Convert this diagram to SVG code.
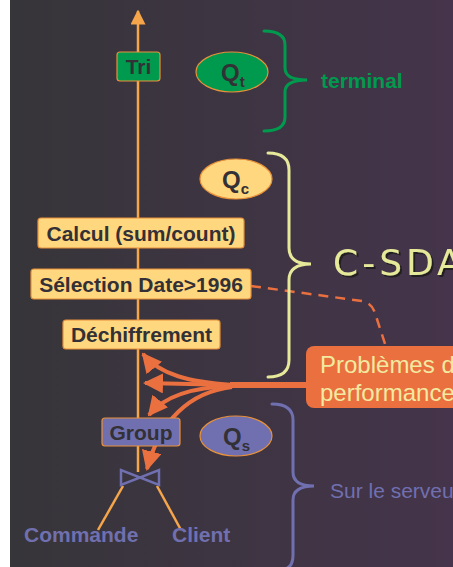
<svg xmlns="http://www.w3.org/2000/svg" width="453" height="567" viewBox="0 0 453 567">
  <defs>
    <linearGradient id="bg" x1="0" y1="0" x2="1" y2="0">
      <stop offset="0" stop-color="#363539"/>
      <stop offset="1" stop-color="#45344b"/>
    </linearGradient>
    <filter id="shadow" x="-10%" y="-20%" width="130%" height="150%">
      <feDropShadow dx="2" dy="2" stdDeviation="0.6" flood-color="#1a161e" flood-opacity="0.8"/>
    </filter>
    <marker id="ahO" viewBox="0 0 10 10" refX="9" refY="5" markerWidth="6" markerHeight="6" markerUnits="strokeWidth" orient="auto">
      <path d="M0,0 L10,5 L0,10 z" fill="#f5a54a"/>
    </marker>
    <marker id="ahR" viewBox="0 0 10 10" refX="9" refY="5" markerWidth="5" markerHeight="5" markerUnits="strokeWidth" orient="auto">
      <path d="M0,0 L10,5 L0,10 z" fill="#ea7040"/>
    </marker>
    <style>
      .flow { stroke: #f5a54a; stroke-width: 2.5; fill: none; }
      .box { stroke: #e8903a; stroke-width: 1.2; }
      .yel { fill: #ffd77e; }
      .lbl { font-family: "Liberation Sans", Arial, sans-serif; font-weight: bold; fill: #333036; font-size: 21px; }
      .q { font-family: "Liberation Sans", Arial, sans-serif; font-weight: bold; fill: #333036; font-size: 24px; }
      .sub { font-size: 15px; }
      .brace { fill: none; stroke-width: 3; stroke-linecap: round; }
      .perf { stroke: #ea7040; fill: none; stroke-width: 4; }
    </style>
  </defs>

  <rect x="0" y="0" width="453" height="567" fill="#ffffff"/>
  <rect x="10" y="0" width="443" height="567" fill="url(#bg)"/>

  <!-- connectors: operator tree edges and performance arrows -->
  <g id="connectors">
    <line class="flow" x1="138" y1="472" x2="138" y2="11" marker-end="url(#ahO)"/>
    <line class="flow" x1="123" y1="486" x2="98" y2="530"/>
    <line class="flow" x1="157" y1="486" x2="181" y2="530"/>
    <path d="M251,286 L362,301 Q372,303 375,313 L386,347" fill="none" stroke="#ea7040" stroke-width="2.5" stroke-dasharray="10,7"/>
    <path d="M306,385 L230,385" stroke="#ea7040" stroke-width="6" fill="none"/>
    <path class="perf" d="M232,385 C190,382 160,375 143,354" marker-end="url(#ahR)"/>
    <path class="perf" d="M232,385 L145,383" marker-end="url(#ahR)"/>
    <path class="perf" d="M232,386 C195,387 165,395 149,415" marker-end="url(#ahR)"/>
    <path class="perf" d="M232,387 C190,392 160,420 147,469" marker-end="url(#ahR)"/>
  </g>

  <!-- terminal part -->
  <g id="tri">
    <rect class="box" x="117" y="52" width="43" height="29" rx="3" fill="#009a4e"/>
    <text class="lbl" x="138.5" y="74" text-anchor="middle">Tri</text>
  </g>
  <g id="qt">
    <ellipse cx="232" cy="72" rx="36" ry="20" fill="#009a4e" stroke="#e8903a" stroke-width="1.2"/>
    <text class="q" x="221" y="81">Q<tspan class="sub" dy="6">t</tspan></text>
  </g>
  <g id="terminal">
    <path class="brace" stroke="#009a4e" d="M264,31 Q285,31 285,45 L285,68 Q285,80 307,80 Q285,80 285,92 L285,117 Q285,131 264,131"/>
    <text x="321" y="88" font-family="'Liberation Sans', Arial, sans-serif" font-weight="bold" font-size="21" fill="#009a4e">terminal</text>
  </g>

  <!-- C-SDA part -->
  <g id="qc">
    <ellipse cx="236" cy="179" rx="36" ry="20" class="yel" stroke="#e8903a" stroke-width="1.2"/>
    <text class="q" x="222" y="188">Q<tspan class="sub" dy="6">c</tspan></text>
  </g>
  <g id="calcul">
    <rect class="box yel" x="38" y="218" width="206" height="30" rx="3"/>
    <text class="lbl" x="141" y="241" text-anchor="middle">Calcul (sum/count)</text>
  </g>
  <g id="selection">
    <rect class="box yel" x="31" y="269" width="220" height="30" rx="3"/>
    <text class="lbl" x="141" y="292" text-anchor="middle">Sélection Date&gt;1996</text>
  </g>
  <g id="dechiffrement">
    <rect class="box yel" x="63" y="320" width="157" height="29" rx="3"/>
    <text class="lbl" x="141.5" y="342" text-anchor="middle">Déchiffrement</text>
  </g>
  <g id="csda">
    <path class="brace" stroke="#e6e89a" d="M268,153 Q289,153 289,170 L289,248 Q289,264 311,264 Q289,264 289,280 L289,360 Q289,377 268,377"/>
    <text x="333" y="275" font-family="'DejaVu Sans', sans-serif" font-size="36" letter-spacing="4" fill="#e6e89a" filter="url(#shadow)">C-SDA</text>
  </g>

  <!-- performance note -->
  <g id="problemes">
    <rect x="306" y="346" width="160" height="62" rx="8" fill="#ea7040"/>
    <text x="320" y="373" font-family="'Liberation Sans', Arial, sans-serif" font-size="24" fill="#f2eaa0">Problèmes de</text>
    <text x="320" y="401" font-family="'Liberation Sans', Arial, sans-serif" font-size="24" fill="#f2eaa0">performance</text>
  </g>

  <!-- server part -->
  <g id="group">
    <rect class="box" x="102" y="418" width="78" height="28" rx="3" fill="#7070b0"/>
    <text class="lbl" x="141" y="440" text-anchor="middle">Group</text>
  </g>
  <g id="qs">
    <ellipse cx="236" cy="436" rx="36" ry="20" fill="#7070b0" stroke="#e8903a" stroke-width="1.2"/>
    <text class="q" x="223" y="445">Q<tspan class="sub" dy="6">s</tspan></text>
  </g>
  <g id="join">
    <path d="M121,470 L121,485 L159,470 L159,485 Z" fill="none" stroke="#7070b0" stroke-width="2.5" stroke-linejoin="miter"/>
  </g>
  <g id="commande">
    <text x="24" y="542" font-family="'Liberation Sans', Arial, sans-serif" font-weight="bold" font-size="21" fill="#7070b0">Commande</text>
  </g>
  <g id="client">
    <text x="172" y="542" font-family="'Liberation Sans', Arial, sans-serif" font-weight="bold" font-size="21" fill="#7070b0">Client</text>
  </g>
  <g id="serveur">
    <path class="brace" stroke="#7070b0" d="M272,404 Q293,404 293,420 L293,472 Q293,486 314,486 Q293,486 293,500 L293,555 Q293,567 285,569"/>
    <text x="330" y="498" font-family="'Liberation Sans', Arial, sans-serif" font-size="21" fill="#7070b0">Sur le serveur</text>
  </g>
</svg>
